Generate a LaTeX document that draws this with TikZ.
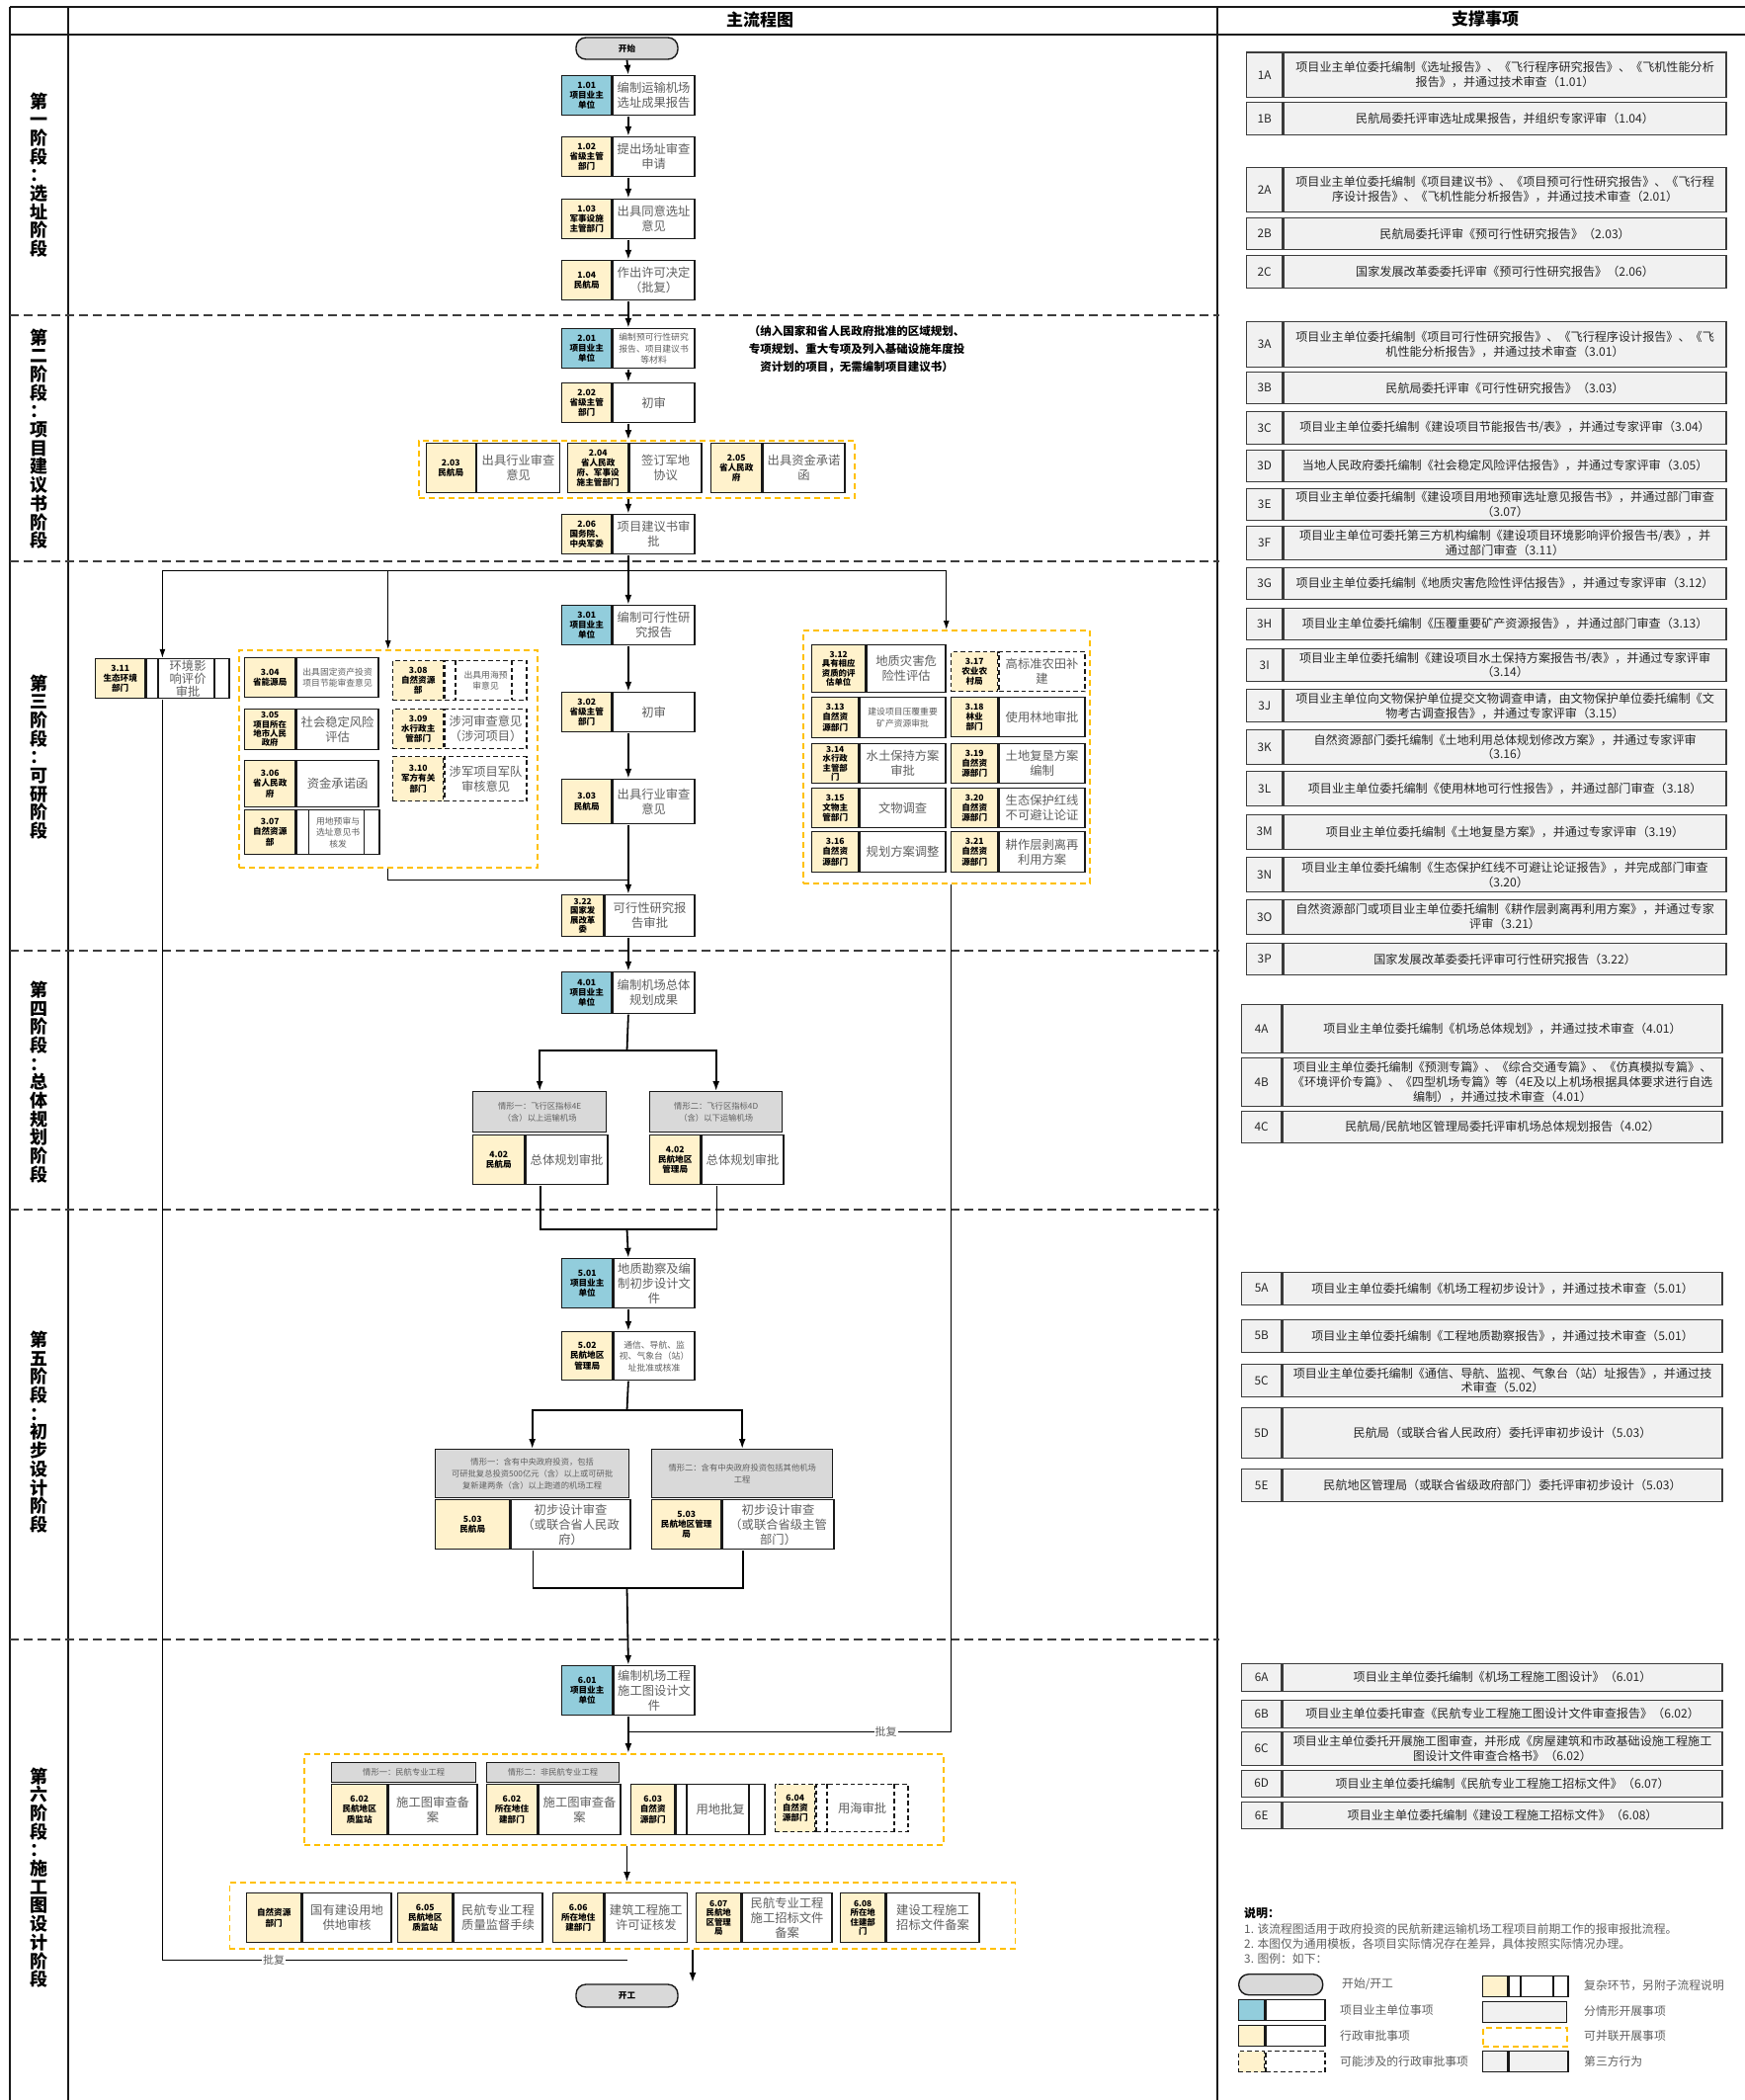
\documentclass[tikz,border=0pt]{standalone}
\usepackage{fontspec}
\setmainfont{Noto Sans CJK SC}
\usetikzlibrary{arrows.meta,fit,calc}
\definecolor{labyellow}{RGB}{255,242,204}
\definecolor{labblue}{RGB}{146,205,220}
\definecolor{casegray}{RGB}{217,217,217}
\definecolor{supgray}{RGB}{241,241,241}
\definecolor{grpyellow}{RGB}{255,192,0}
\definecolor{txtgray}{RGB}{95,95,95}
\definecolor{linec}{RGB}{25,25,25}
\def\labfillcolor{labyellow}
\def\txtsizecmd{\fontsize{12.3}{15}\selectfont}
\def\labsizecmd{\fontsize{8.6}{10.3}\selectfont}
\tikzset{
  labfill/.code={\def\labfillcolor{#1}},
  smtx/.code={\def\txtsizecmd{\fontsize{8.8}{11.5}\selectfont}},
  cmtx/.code={\def\txtsizecmd{\fontsize{12.3}{13}\selectfont}},
  tlab/.code={\def\labsizecmd{\fontsize{8.4}{9.4}\selectfont}},
  boxline/.style={draw=linec, line width=1.4pt},
  labcell/.style={boxline, inner sep=0.5pt, align=center, font=\bfseries\labsizecmd, text=black},
  txtcell/.style={boxline, fill=white, inner sep=0.5pt, align=center, font=\txtsizecmd, text=txtgray},
  grp/.style={draw=grpyellow, dash pattern=on 6pt off 4pt, line width=1.5pt},
  dbox/.style={dash pattern=on 4.5pt off 3pt},
  casehdr/.style={boxline, fill=casegray, align=center, font=\fontsize{8.3}{12}\selectfont, text=txtgray, inner sep=1pt, anchor=north west},
  term/.style={draw=linec, line width=1.4pt, fill=casegray, rounded corners=10pt, font=\bfseries\fontsize{8.6}{10}\selectfont},
  arr/.style={line width=1.8pt, draw=black, -{Latex[length=10pt,width=7pt]}},
  arrthin/.style={line width=1pt, draw=black, -{Latex[length=9pt,width=6pt]}},
  conn/.style={line width=1.8pt, draw=black},
  connthin/.style={line width=1pt, draw=black},
  stagediv/.style={draw=linec!85, dash pattern=on 9pt off 5pt, line width=1.3pt},
  stagelab/.style={align=center, font=\bfseries\fontsize{18}{18.7}\selectfont, text=black},
  pifu/.style={fill=white, inner sep=1pt, font=\fontsize{11}{11}\selectfont, text=txtgray},
  supid/.style={draw=linec!85, line width=1.4pt, fill=supgray, font=\fontsize{11.8}{13}\selectfont, text=black!85, inner sep=0.5pt},
  suptxt/.style={draw=linec!85, line width=1.4pt, fill=supgray, align=center, font=\fontsize{12.1}{14.8}\selectfont, text=black!85, inner sep=0.5pt},
  legtxt/.style={anchor=west, font=\fontsize{11.8}{13}\selectfont, text=txtgray, inner sep=0pt},
}
% #1 extra style, #2 name, #3 x, #4 y, #5 width, #6 height, #7 label width, #8 label, #9 text
\newcommand{\mybox}[9][]{%
  \begin{scope}[#1]
    \node[labcell, fill=\labfillcolor, minimum width=#7, minimum height=#6, anchor=north west] (#2l) at (#3,#4) {#8};
    \node[txtcell, minimum width=#5-#7, minimum height=#6, anchor=north west] (#2t) at (#2l.north east) {#9};
    \node[fit=(#2l)(#2t), inner sep=0pt] (#2) {};
  \end{scope}}
\def\supx{1261}\def\supw{484}\def\supidw{36}
% #1 name, #2 y top, #3 height, #4 id, #5 text
\newcommand{\supbox}[5]{%
  \node[supid, minimum width=\supidw, minimum height=#3, anchor=north west] (#1i) at (\supx,#2) {#4};
  \node[suptxt, minimum width=\supw-\supidw, minimum height=#3, anchor=north west] (#1) at (#1i.north east) {#5};}
\begin{document}
\begin{tikzpicture}[x=1pt,y=-1pt]
\useasboundingbox (0,0) rectangle (1766,2125);
\fill[white] (0,0) rectangle (1766,2125);
% frame
\draw[linec, line width=1.3pt] (10,7) -- (1766,7);
\draw[linec, line width=1.3pt] (10,35) -- (1766,35);
\draw[linec, line width=1.3pt] (10,7) -- (10,2125);
\draw[linec, line width=1.3pt] (69,7) -- (69,2125);
\draw[linec, line width=1.3pt] (1232,7) -- (1232,2125);
\node[font=\bfseries\fontsize{17}{17}\selectfont] (hmain) at (769,20) {主流程图};
\node[font=\bfseries\fontsize{17}{17}\selectfont] (hsup) at (1503,19) {支撑事项};
% stage dividers
\foreach \yy in {319,568,962,1224,1659} {\draw[stagediv] (10,\yy) -- (1234,\yy);}
% stage labels
\node[stagelab] (s1) at (39.5,177) {第\\一\\阶\\段\\：\\选\\址\\阶\\段};
\node[stagelab] (s2) at (39.5,444) {第\\二\\阶\\段\\：\\项\\目\\建\\议\\书\\阶\\段};
\node[stagelab] (s3) at (39.5,766) {第\\三\\阶\\段\\：\\可\\研\\阶\\段};
\node[stagelab] (s4) at (39.5,1095) {第\\四\\阶\\段\\：\\总\\体\\规\\划\\阶\\段};
\node[stagelab] (s5) at (39.5,1449) {第\\五\\阶\\段\\：\\初\\步\\设\\计\\阶\\段};
\node[stagelab] (s6) at (39.5,1900) {第\\六\\阶\\段\\：\\施\\工\\图\\设\\计\\阶\\段};

% ===== Stage 1
\node[term, minimum width=103, minimum height=22] (start) at (634.5,49) {开始};
\mybox[labfill=labblue]{b101}{568}{76}{133}{40}{50}{1.01\\项目业主\\单位}{编制运输机场\\选址成果报告}
\mybox{b102}{568}{138}{133}{40}{50}{1.02\\省级主管\\部门}{提出场址审查\\申请}
\mybox{b103}{568}{201}{133}{40}{50}{1.03\\军事设施\\主管部门}{出具同意选址\\意见}
\mybox{b104}{568}{263}{133}{40}{50}{1.04\\民航局}{作出许可决定\\（批复）}

% ===== Stage 2
\mybox[labfill=labblue, smtx]{b201}{568}{332}{133}{40}{50}{2.01\\项目业主\\单位}{编制预可行性研究\\报告、项目建议书\\等材料}
\mybox{b202}{568}{387}{133}{40}{50}{2.02\\省级主管\\部门}{初审}
\node[grp, minimum width=441, minimum height=58, anchor=north west] (g2) at (423,445) {};
\mybox{b203}{430.5}{448}{134}{50}{50}{2.03\\民航局}{出具行业审查\\意见}
\mybox{b204}{574}{448}{134}{50}{61}{2.04\\省人民政\\府、军事设\\施主管部门}{签订军地\\协议}
\mybox{b205}{719}{448}{134}{50}{51}{2.05\\省人民政\\府}{出具资金承诺\\函}
\mybox{b206}{568}{520}{133}{40}{50}{2.06\\国务院、\\中央军委}{项目建议书审\\批}
\node[align=center, font=\bfseries\fontsize{11.5}{18}\selectfont] (note2) at (867,353) {（纳入国家和省人民政府批准的区域规划、\\专项规划、重大专项及列入基础设施年度投\\资计划的项目，无需编制项目建议书）};

% ===== Stage 3
\mybox[labfill=labblue]{b301}{568}{612}{133}{40}{50}{3.01\\项目业主\\单位}{编制可行性研\\究报告}
\mybox{b302}{568}{700}{133}{40}{50}{3.02\\省级主管\\部门}{初审}
\mybox{b303}{568}{788}{133}{45}{50}{3.03\\民航局}{出具行业审查\\意见}
\mybox[tlab]{b322}{568}{905}{133}{42}{42}{3.22\\国家发\\展改革\\委}{可行性研究报\\告审批}

\mybox[cmtx]{b311}{96}{666}{134}{40}{50}{3.11\\生态环境\\部门}{环境影\\响评价\\审批}
\draw[boxline] (160,666) -- (160,706);
\draw[boxline] (217,666) -- (217,706);

\node[grp, minimum width=302, minimum height=220, anchor=north west] (g3l) at (241,657) {};
\mybox[smtx]{b304}{247}{665}{134}{40}{51}{3.04\\省能源局}{出具固定资产投资\\项目节能审查意见}
\mybox[tlab]{b305}{247}{717}{134}{41}{51}{3.05\\项目所在\\地市人民\\政府}{社会稳定风险\\评估}
\mybox{b306}{247}{769}{134}{47}{51}{3.06\\省人民政\\府}{资金承诺函}
\mybox[smtx]{b307}{247}{819}{135}{45}{51}{3.07\\自然资源\\部}{用地预审与\\选址意见书\\核发}
\draw[boxline] (312.5,819) -- (312.5,864);
\draw[boxline] (368.5,819) -- (368.5,864);
\mybox[dbox, smtx]{b308}{397}{668}{134}{40}{51}{3.08\\自然资源\\部}{出具用海预\\审意见}
\draw[boxline, dbox] (461,668) -- (461,708);
\draw[boxline, dbox] (518,668) -- (518,708);
\mybox[dbox]{b309}{397}{717}{134}{40}{51}{3.09\\水行政主\\管部门}{涉河审查意见\\（涉河项目）}
\mybox[dbox]{b310}{397}{765}{134}{45}{51}{3.10\\军方有关\\部门}{涉军项目军队\\审核意见}

\node[grp, minimum width=290, minimum height=256, anchor=north west] (g3r) at (812,637) {};
\mybox[tlab]{b312}{821}{652}{134}{48}{54}{3.12\\具有相应\\资质的评\\估单位}{地质灾害危\\险性评估}
\mybox[dbox]{b317}{962}{659}{134}{40}{47}{3.17\\农业农\\村局}{高标准农田补\\建}
\mybox[smtx]{b313}{821}{705}{134}{41}{47}{3.13\\自然资\\源部门}{建设项目压覆重要\\矿产资源审批}
\mybox{b318}{962}{705}{134}{40}{47}{3.18\\林业\\部门}{使用林地审批}
\mybox[tlab]{b314}{821}{752}{134}{40}{47}{3.14\\水行政\\主管部\\门}{水土保持方案\\审批}
\mybox{b319}{962}{752}{134}{40}{47}{3.19\\自然资\\源部门}{土地复垦方案\\编制}
\mybox{b315}{821}{797}{134}{40}{47}{3.15\\文物主\\管部门}{文物调查}
\mybox{b320}{962}{797}{134}{40}{47}{3.20\\自然资\\源部门}{生态保护红线\\不可避让论证}
\mybox{b316}{821}{841}{134}{41}{47}{3.16\\自然资\\源部门}{规划方案调整}
\mybox{b321}{962}{841}{134}{41}{47}{3.21\\自然资\\源部门}{耕作层剥离再\\利用方案}

% ===== Stage 4
\mybox[labfill=labblue]{b401}{568}{983}{133}{42}{50}{4.01\\项目业主\\单位}{编制机场总体\\规划成果}
\node[casehdr, minimum width=135, minimum height=41] (c4a) at (478,1104) {情形一：飞行区指标4E\\（含）以上运输机场};
\mybox{b402a}{478}{1148}{135}{50}{52}{4.02\\民航局}{总体规划审批}
\node[casehdr, minimum width=134, minimum height=41] (c4b) at (657,1104) {情形二：飞行区指标4D\\（含）以下运输机场};
\mybox{b402b}{657}{1148}{134}{50}{51}{4.02\\民航地区\\管理局}{总体规划审批}

% ===== Stage 5
\mybox[labfill=labblue]{b501}{568}{1273}{133}{50}{51}{5.01\\项目业主\\单位}{地质勘察及编\\制初步设计文\\件}
\mybox[smtx]{b502}{568}{1347}{133}{49}{51}{5.02\\民航地区\\管理局}{通信、导航、监\\视、气象台（站）\\址批准或核准}
\node[casehdr, minimum width=196, minimum height=49] (c5a) at (440,1466) {情形一：含有中央政府投资，包括\\可研批复总投资500亿元（含）以上或可研批\\复新建两条（含）以上跑道的机场工程};
\mybox{b503a}{440}{1517}{196}{50}{75}{5.03\\民航局}{初步设计审查\\（或联合省人民政\\府）}
\node[casehdr, minimum width=183, minimum height=49] (c5b) at (659,1466) {情形二：含有中央政府投资包括其他机场\\工程};
\mybox{b503b}{659}{1517}{183}{50}{70}{5.03\\民航地区管理\\局}{初步设计审查\\（或联合省级主管\\部门）}

% ===== Stage 6
\mybox[labfill=labblue]{b601}{568}{1685}{133}{50}{51}{6.01\\项目业主\\单位}{编制机场工程\\施工图设计文\\件}
\node[grp, minimum width=647, minimum height=92, anchor=north west] (g6a) at (307,1774) {};
\node[casehdr, minimum width=146, minimum height=20] (c6a) at (335,1783) {情形一：民航专业工程};
\node[casehdr, minimum width=134.5, minimum height=20] (c6b) at (491.5,1783) {情形二：非民航专业工程};
\mybox{b602a}{335}{1805}{146}{51}{56}{6.02\\民航地区\\质监站}{施工图审查备\\案}
\mybox{b602b}{491.5}{1805}{134.5}{51}{51.5}{6.02\\所在地住\\建部门}{施工图审查备\\案}
\mybox{b603}{638}{1805}{134}{51}{44}{6.03\\自然资\\源部门}{用地批复}
\draw[boxline] (695,1805) -- (695,1856);
\draw[boxline] (758,1805) -- (758,1856);
\mybox[dbox]{b604}{784}{1805}{133}{48}{40}{6.04\\自然资\\源部门}{用海审批}
\draw[boxline, dbox] (837,1805) -- (837,1853);
\draw[boxline, dbox] (905,1805) -- (905,1853);

\node[grp, minimum width=795, minimum height=67, anchor=north west] (g6b) at (231.5,1904) {};
\mybox{b6g}{249}{1915}{145}{50}{55}{自然资源\\部门}{国有建设用地\\供地审核}
\mybox{b605}{402}{1915}{145}{50}{55}{6.05\\民航地区\\质监站}{民航专业工程\\质量监督手续}
\mybox{b606}{559}{1915}{134.5}{50}{51}{6.06\\所在地住\\建部门}{建筑工程施工\\许可证核发}
\mybox[tlab]{b607}{704}{1915}{136}{50}{45}{6.07\\民航地\\区管理\\局}{民航专业工程\\施工招标文件\\备案}
\mybox[tlab]{b608}{850}{1915}{139}{50}{45}{6.08\\所在地\\住建部\\门}{建设工程施工\\招标文件备案}
\node[term, minimum width=103, minimum height=23] (end) at (634.5,2019.5) {开工};

% ===== Connectors
\coordinate (mx) at (634.5,0);
\coordinate (rx) at (962,0);
\draw[arr] (start.south) -- (b101.north);
\draw[arr] (b101.south) -- (b102.north);
\draw[arr] (b102.south) -- (b103.north);
\draw[arr] (b103.south) -- (b104.north);
\draw[arr] (b104.south) -- (b201.north);
\draw[arr] (b201.south) -- (b202.north);
\draw[arr] (b202.south) -- (b202.south |- g2.north);
\draw[arr] (g2.south -| b206.north) -- (b206.north);
\draw[arr] (b206.south) -- (b301.north);
\coordinate (j3) at (634.5,577);
\draw[arrthin] (j3) -| (b311.north);
\draw[arrthin] (j3) -| (g3l.north);
\draw[arrthin] (j3) -| (g3r.north);
\draw[arr] (b301.south) -- (b302.north);
\draw[arr] (b302.south) -- (b303.north);
\draw[arr] (b303.south) -- (b322.north);
\coordinate (j322) at (634.5,890);
\draw[connthin] (g3l.south) |- (j322);
\coordinate (jpf) at (634.5,1752);
\draw[connthin] (g3r.south -| rx) |- node[pifu, pos=0.6] {批复} (jpf);
\coordinate (jbl) at (634.5,1983);
\draw[connthin] (b311.south) |- node[pifu, pos=0.62] {批复} (jbl);
\draw[arr] (b322.south) -- (b401.north);
\coordinate (j4) at (634.5,1063);
\draw[conn] (b401.south) -- (j4);
\draw[arr] (j4) -| (c4a.north);
\draw[arr] (j4) -| (c4b.north);
\coordinate (j4m) at (634.5,1244);
\draw[conn] (b402a.south) |- (j4m) -| (b402b.south);
\draw[arr] (j4m) -- (b501.north);
\draw[arr] (b501.south) -- (b502.north);
\coordinate (j5) at (634.5,1427);
\draw[conn] (b502.south) -- (j5);
\draw[arr] (j5) -| (c5a.north);
\draw[arr] (j5) -| (c5b.north);
\coordinate (j5m) at (634.5,1607);
\draw[conn] (b503a.south) |- (j5m) -| (b503b.south);
\draw[arr] (j5m) -- (b601.north);
\draw[arr] (b601.south) -- (b601.south |- g6a.north);
\draw[arr] (g6a.south -| mx) -- (g6b.north -| mx);
\coordinate (endp) at (701,2006);
\draw[arr] (g6b.south -| endp) -- (endp);

% ===== Support items
\supbox{r1A}{52.5}{45}{1A}{项目业主单位委托编制《选址报告》、《飞行程序研究报告》、《飞机性能分析\\报告》，并通过技术审查（1.01）}
\supbox{r1B}{103}{33}{1B}{民航局委托评审选址成果报告，并组织专家评审（1.04）}
\supbox{r2A}{168.5}{45}{2A}{项目业主单位委托编制《项目建议书》、《项目预可行性研究报告》、《飞行程\\序设计报告》、《飞机性能分析报告》，并通过技术审查（2.01）}
\supbox{r2B}{219.5}{32.5}{2B}{民航局委托评审《预可行性研究报告》（2.03）}
\supbox{r2C}{258}{32.5}{2C}{国家发展改革委委托评审《预可行性研究报告》（2.06）}
\supbox{r3A}{325}{45.5}{3A}{项目业主单位委托编制《项目可行性研究报告》、《飞行程序设计报告》、《飞\\机性能分析报告》，并通过技术审查（3.01）}
\supbox{r3B}{375.5}{32.5}{3B}{民航局委托评审《可行性研究报告》（3.03）}
\supbox{r3C}{415.5}{33}{3C}{项目业主单位委托编制《建设项目节能报告书/表》，并通过专家评审（3.04）}
\supbox{r3D}{454.5}{32.5}{3D}{当地人民政府委托编制《社会稳定风险评估报告》，并通过专家评审（3.05）}
\supbox{r3E}{493.5}{32.5}{3E}{项目业主单位委托编制《建设项目用地预审选址意见报告书》，并通过部门审查\\（3.07）}
\supbox{r3F}{532}{34}{3F}{项目业主单位可委托第三方机构编制《建设项目环境影响评价报告书/表》，并\\通过部门审查（3.11）}
\supbox{r3G}{573.5}{32.5}{3G}{项目业主单位委托编制《地质灾害危险性评估报告》，并通过专家评审（3.12）}
\supbox{r3H}{614.5}{32.5}{3H}{项目业主单位委托编制《压覆重要矿产资源报告》，并通过部门审查（3.13）}
\supbox{r3I}{656}{32.5}{3I}{项目业主单位委托编制《建设项目水土保持方案报告书/表》，并通过专家评审\\（3.14）}
\supbox{r3J}{697}{33}{3J}{项目业主单位向文物保护单位提交文物调查申请，由文物保护单位委托编制《文\\物考古调查报告》，并通过专家评审（3.15）}
\supbox{r3K}{738}{34.5}{3K}{自然资源部门委托编制《土地利用总体规划修改方案》，并通过专家评审\\（3.16）}
\supbox{r3L}{780}{35}{3L}{项目业主单位委托编制《使用林地可行性报告》，并通过部门审查（3.18）}
\supbox{r3M}{823.5}{35}{3M}{项目业主单位委托编制《土地复垦方案》，并通过专家评审（3.19）}
\supbox{r3N}{867}{35}{3N}{项目业主单位委托编制《生态保护红线不可避让论证报告》，并完成部门审查\\（3.20）}
\supbox{r3O}{909.5}{35}{3O}{自然资源部门或项目业主单位委托编制《耕作层剥离再利用方案》，并通过专家\\评审（3.21）}
\supbox{r3P}{953.5}{32.5}{3P}{国家发展改革委委托评审可行性研究报告（3.22）}
\def\supx{1256}\def\supw{485}\def\supidw{40}
\supbox{r4A}{1015.5}{49}{4A}{项目业主单位委托编制《机场总体规划》，并通过技术审查（4.01）}
\supbox{r4B}{1069.5}{49}{4B}{项目业主单位委托编制《预测专篇》、《综合交通专篇》、《仿真模拟专篇》、\\《环境评价专篇》、《四型机场专篇》等（4E及以上机场根据具体要求进行自选\\编制），并通过技术审查（4.01）}
\supbox{r4C}{1123.5}{32.5}{4C}{民航局/民航地区管理局委托评审机场总体规划报告（4.02）}
\supbox{r5A}{1286.5}{33}{5A}{项目业主单位委托编制《机场工程初步设计》，并通过技术审查（5.01）}
\supbox{r5B}{1334.5}{33}{5B}{项目业主单位委托编制《工程地质勘察报告》，并通过技术审查（5.01）}
\supbox{r5C}{1380}{32.5}{5C}{项目业主单位委托编制《通信、导航、监视、气象台（站）址报告》，并通过技\\术审查（5.02）}
\supbox{r5D}{1423.5}{51.5}{5D}{民航局（或联合省人民政府）委托评审初步设计（5.03）}
\supbox{r5E}{1486}{33}{5E}{民航地区管理局（或联合省级政府部门）委托评审初步设计（5.03）}
\supbox{r6A}{1682.5}{28}{6A}{项目业主单位委托编制《机场工程施工图设计》（6.01）}
\supbox{r6B}{1719.5}{28}{6B}{项目业主单位委托审查《民航专业工程施工图设计文件审查报告》（6.02）}
\supbox{r6C}{1752}{33.5}{6C}{项目业主单位委托开展施工图审查，并形成《房屋建筑和市政基础设施工程施工\\图设计文件审查合格书》（6.02）}
\supbox{r6D}{1790.5}{27}{6D}{项目业主单位委托编制《民航专业工程施工招标文件》（6.07）}
\supbox{r6E}{1822.5}{27.5}{6E}{项目业主单位委托编制《建设工程施工招标文件》（6.08）}

% ===== Notes and legend
\node[anchor=west, inner sep=0pt, font=\bfseries\fontsize{12}{12}\selectfont] (ntitle) at (1259,1936) {说明：};
\node[legtxt] (n1) at (1259,1952) {1. 该流程图适用于政府投资的民航新建运输机场工程项目前期工作的报审报批流程。};
\node[legtxt] (n2) at (1259,1967) {2. 本图仅为通用模板，各项目实际情况存在差异，具体按照实际情况办理。};
\node[legtxt] (n3) at (1259,1982) {3. 图例：如下：};

\node[term, minimum width=85, minimum height=21, anchor=north west] (lg1) at (1253,1997) {};
\node[legtxt] (lg1t) at (1358,2007.5) {开始/开工};
\node[labcell, fill=labblue, minimum width=26, minimum height=21, anchor=north west] (lg2a) at (1253,2023) {};
\node[txtcell, minimum width=60, minimum height=21, anchor=north west] (lg2b) at (lg2a.north east) {};
\node[legtxt] (lg2t) at (1356,2033.5) {项目业主单位事项};
\node[labcell, fill=labyellow, minimum width=26, minimum height=21, anchor=north west] (lg3a) at (1253,2049) {};
\node[txtcell, minimum width=60, minimum height=21, anchor=north west] (lg3b) at (lg3a.north east) {};
\node[legtxt] (lg3t) at (1356,2059.5) {行政审批事项};
\begin{scope}[dbox]
\node[labcell, fill=labyellow, minimum width=26, minimum height=21, anchor=north west] (lg4a) at (1253,2075) {};
\node[txtcell, minimum width=60, minimum height=21, anchor=north west] (lg4b) at (lg4a.north east) {};
\end{scope}
\node[legtxt] (lg4t) at (1356,2085.5) {可能涉及的行政审批事项};

\node[labcell, fill=labyellow, minimum width=25, minimum height=21, anchor=north west] (lg5a) at (1500,1999) {};
\node[txtcell, minimum width=60, minimum height=21, anchor=north west] (lg5b) at (lg5a.north east) {};
\draw[boxline] (1539,1999) -- (1539,2020);
\draw[boxline] (1572,1999) -- (1572,2020);
\node[legtxt] (lg5t) at (1603,2009.5) {复杂环节，另附子流程说明};
\node[boxline, fill=supgray, minimum width=85, minimum height=21, anchor=north west] (lg6) at (1500,2025) {};
\node[legtxt] (lg6t) at (1603,2035.5) {分情形开展事项};
\node[grp, minimum width=85, minimum height=19, anchor=north west] (lg7) at (1500,2051) {};
\node[legtxt] (lg7t) at (1603,2060.5) {可并联开展事项};
\node[boxline, fill=supgray, minimum width=25, minimum height=21, anchor=north west] (lg8a) at (1500,2075) {};
\node[boxline, fill=supgray, minimum width=60, minimum height=21, anchor=north west] (lg8b) at (lg8a.north east) {};
\node[legtxt] (lg8t) at (1603,2085.5) {第三方行为};
\end{tikzpicture}
\end{document}
